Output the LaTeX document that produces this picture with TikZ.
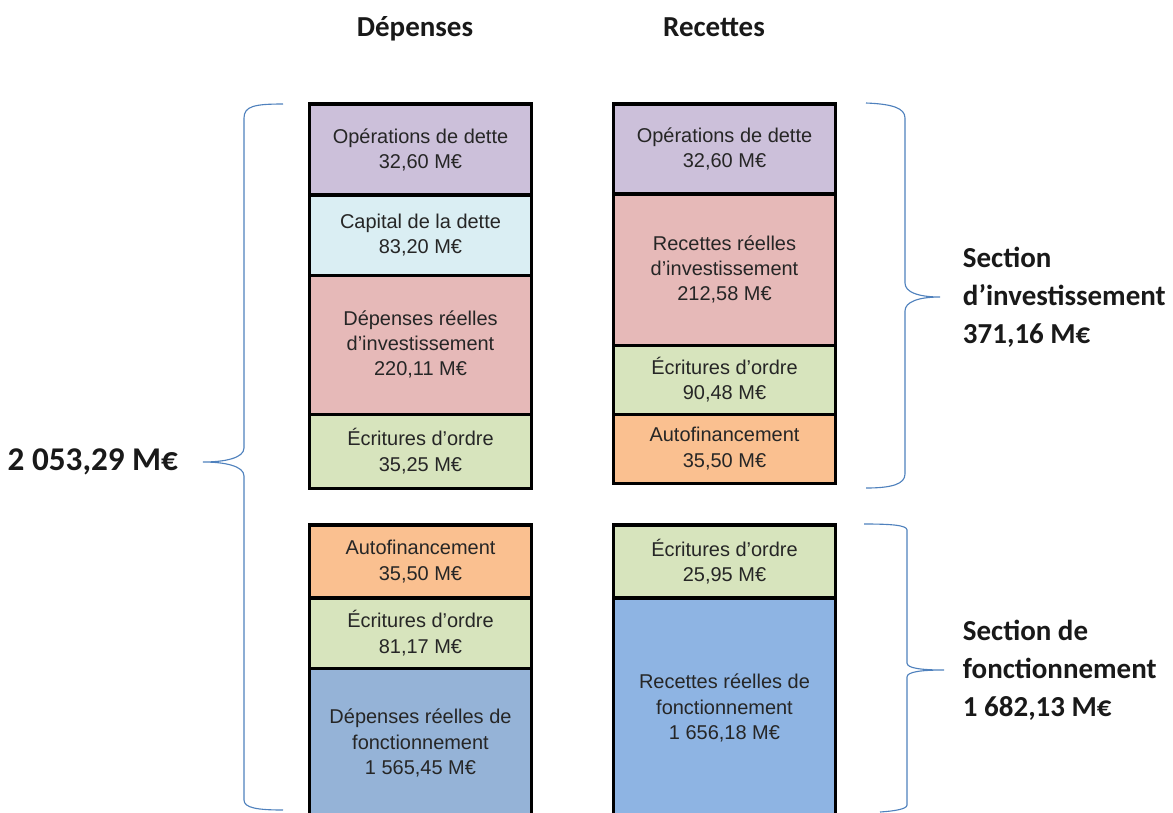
\documentclass[tikz,border=0pt]{standalone}
\usepackage{fontspec}
\setmainfont{Liberation Sans}
\newfontfamily\titrefont{Carlito}
\usetikzlibrary{positioning}

\definecolor{dette}{RGB}{204,192,218}
\definecolor{capital}{RGB}{218,238,243}
\definecolor{reelinv}{RGB}{230,185,184}
\definecolor{ordre}{RGB}{215,228,189}
\definecolor{autofin}{RGB}{250,192,144}
\definecolor{fonctdep}{RGB}{149,179,215}
\definecolor{fonctrec}{RGB}{142,180,227}
\definecolor{accol}{RGB}{79,129,189}

\tikzset{
  poste/.style={draw=black, line width=2.2pt, outer sep=0pt, minimum width=5.55cm,
    align=center, text=black!85, font=\fontsize{14.2pt}{17.9pt}\selectfont},
  titre/.style={font=\titrefont\bfseries\fontsize{20.6pt}{27pt}\selectfont, text=black!90},
  accolade/.style={draw=accol, line width=0.8pt}
}

\begin{document}
\begin{tikzpicture}[x=0.025cm, y=-0.025cm]
    \useasboundingbox (0,0) rectangle (1173,812);
    \clip (0,0) rectangle (1173,812);

    % Column headers
    \node[titre, anchor=base] (hdep) at (415,36) {Dépenses};
    \node[titre, anchor=base] (hrec) at (714,36) {Recettes};

    % Depenses, section d'investissement
    \node[poste, fill=dette, minimum height=2.275cm, anchor=north] (d1) at (420.5,104) {Opérations de dette\\32,60 M€};
    \node[poste, fill=capital, minimum height=2cm, below=0pt of d1] (d2) {Capital de la dette\\83,20 M€};
    \node[poste, fill=reelinv, minimum height=3.475cm, below=0pt of d2] (d3) {Dépenses réelles\\d’investissement\\220,11 M€};
    \node[poste, fill=ordre, minimum height=1.85cm, below=0pt of d3] (d4) {Écritures d’ordre\\35,25 M€};

    % Recettes, section d'investissement
    \node[poste, fill=dette, minimum height=2.25cm, anchor=north] (r1) at (724.5,104) {Opérations de dette\\32,60 M€};
    \node[poste, fill=reelinv, minimum height=3.775cm, below=0pt of r1] (r2) {Recettes réelles\\d’investissement\\212,58 M€};
    \node[poste, fill=ordre, minimum height=1.725cm, below=0pt of r2] (r3) {Écritures d’ordre\\90,48 M€};
    \node[poste, fill=autofin, minimum height=1.725cm, below=0pt of r3] (r4) {Autofinancement\\35,50 M€};

    % Depenses, section de fonctionnement
    \node[poste, fill=autofin, minimum height=1.825cm, anchor=north] (d5) at (420.5,525) {Autofinancement\\35,50 M€};
    \node[poste, fill=ordre, minimum height=1.75cm, below=0pt of d5] (d6) {Écritures d’ordre\\81,17 M€};
    \node[poste, fill=fonctdep, minimum height=3.75cm, below=0pt of d6] (d7) {Dépenses réelles de\\fonctionnement\\1 565,45 M€};

    % Recettes, section de fonctionnement
    \node[poste, fill=ordre, minimum height=1.825cm, anchor=north] (r5) at (724.5,525) {Écritures d’ordre\\25,95 M€};
    \node[poste, fill=fonctrec, minimum height=5.5cm, below=0pt of r5] (r6) {Recettes réelles de\\fonctionnement\\1 656,18 M€};

    % Braces
    \draw[accolade] (283,104) .. controls (255,104) and (244,106) .. (244,118)
        -- (244,448) .. controls (244,458) and (225,462) .. (203,462)
        .. controls (225,462) and (244,466) .. (244,476)
        -- (244,800) .. controls (244,808) and (258,810) .. (283,810);
    \draw[accolade] (866,103) .. controls (892,104) and (905,108) .. (905,118)
        -- (905,283) .. controls (905,292) and (918,297) .. (940,297)
        .. controls (918,297) and (905,302) .. (905,311)
        -- (905,474) .. controls (905,484) and (892,488) .. (866,488);
    \draw[accolade] (864,524) .. controls (890,524) and (907,525) .. (907,530)
        -- (907,663) .. controls (907,668) and (920,670) .. (944,670)
        .. controls (920,670) and (907,672) .. (907,677)
        -- (907,805) .. controls (907,809) and (895,811) .. (880,812);

    % Totals
    \node[titre, anchor=east, font=\titrefont\bfseries\fontsize{23.6pt}{28pt}\selectfont] (total) at (183,462) {2 053,29 M€};
    \node[titre, anchor=west, align=left] (sinv) at (958,297) {Section\\d’investissement\\371,16 M€};
    \node[titre, anchor=west, align=left] (sfonct) at (958,670) {Section de\\fonctionnement\\1 682,13 M€};
\end{tikzpicture}
\end{document}
